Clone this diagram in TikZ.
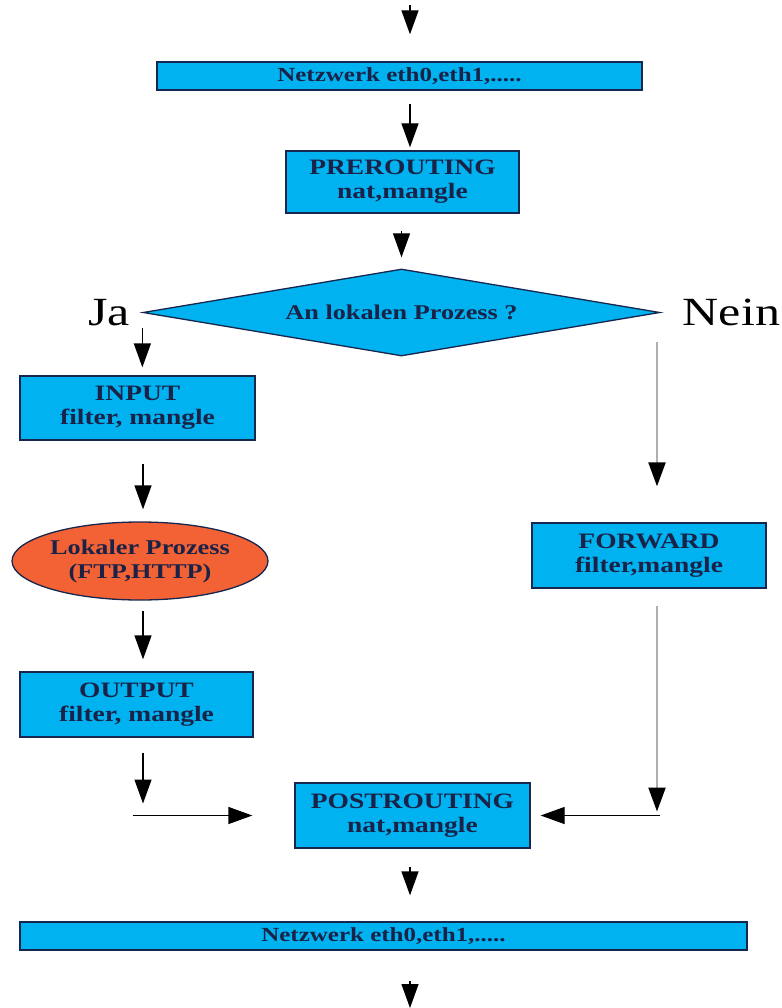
\documentclass[tikz,border=0pt]{standalone}
\usepackage{fontspec}
\setmainfont{Liberation Serif}[FakeStretch=1.25]
\usetikzlibrary{arrows.meta,shapes.geometric,calc}
\definecolor{boxblue}{RGB}{0,178,240}
\definecolor{procred}{RGB}{242,98,52}
\definecolor{bordercol}{RGB}{22,38,78}
\definecolor{textnavy}{RGB}{26,34,72}
\definecolor{greyline}{RGB}{175,175,175}
\tikzset{
  box/.style={draw=bordercol, line width=1.3pt, fill=boxblue, text=textnavy,
    font=\bfseries\fontsize{22}{24}\selectfont, align=center, inner sep=0pt},
  netbox/.style={box, font=\bfseries\fontsize{20}{21}\selectfont},
  arr/.style={line width=1.3pt, -{Triangle[width=17pt,length=24pt]}},
  garr/.style={greyline, line width=2.2pt, -{Triangle[width=17pt,length=24pt,color=black]}},
  lbl/.style={font=\fontsize{40}{42}\selectfont, inner sep=0pt}
}
\begin{document}
\begin{tikzpicture}[x=1pt,y=-1pt]
\useasboundingbox (0,0) rectangle (781,1008);
\coordinate (colA) at (410,0);
\coordinate (colL) at (143,0);
\coordinate (colR) at (657,0);
\coordinate (top) at (410,5);

\node[netbox, minimum width=485pt, minimum height=28pt] (net1) at (399.5,76) {Netzwerk eth0,eth1,.....};
\node[box, minimum width=233pt, minimum height=62pt] (pre) at (402.5,182) {PREROUTING\\nat,mangle};
\node[box, shape=diamond, aspect=5.9, minimum width=517pt, minimum height=87pt,
      font=\bfseries\fontsize{21}{22}\selectfont] (dia) at (401.5,312.5) {An lokalen Prozess ?};
\node[lbl, anchor=east] (ja) at ([xshift=-12pt]dia.west) {Ja};
\node[lbl, anchor=west] (nein) at ([xshift=22pt]dia.east) {Nein};
\node[box, minimum width=235pt, minimum height=64pt] (input) at (137.5,408) {INPUT\\filter, mangle};
\node[box, shape=ellipse, fill=procred, minimum width=256pt, minimum height=78pt,
      font=\bfseries\fontsize{21}{24}\selectfont] (proc) at (140,561) {Lokaler Prozess\\(FTP,HTTP)};
\node[box, minimum width=233pt, minimum height=65pt] (output) at (136.5,704.5) {OUTPUT\\filter, mangle};
\node[box, minimum width=234pt, minimum height=65pt] (fwd) at (649,555.5) {FORWARD\\filter,mangle};
\node[box, minimum width=235pt, minimum height=65pt] (post) at (412.5,815.5) {POSTROUTING\\nat,mangle};
\node[netbox, minimum width=727pt, minimum height=28pt] (net2) at (383.5,936) {Netzwerk eth0,eth1,.....};
\coordinate (bottom) at (410,1008);
\coordinate (lstart) at ($(post.west -| colL)+(-10,0)$);

% main column
\draw[arr] (top) -- ([yshift=27pt]net1.north -| colA);
\draw[arr, shorten <=13pt, shorten >=3pt] (net1.south -| colA) -- (pre.north -| colA);
\draw[arr, shorten <=17pt, shorten >=11pt] (pre.south -| dia.north) -- (dia.north);
% Ja branch
\draw[arr, shorten <=15pt, shorten >=8pt] (dia.west) -- (input.north -| dia.west);
\draw[arr, shorten <=23pt, shorten >=12pt] (input.south -| colL) -- (proc.north -| colL);
\draw[arr, shorten <=10pt, shorten >=12pt] (proc.south -| colL) -- (output.north -| colL);
\draw[arr, shorten <=15pt, shorten >=12pt] (output.south -| colL) -- (post.west -| colL);
\draw[arr, shorten >=42pt] (lstart) -- (post.west);
% Nein branch
\draw[garr, shorten <=29pt, shorten >=36pt] (dia.east -| colR) -- (fwd.north -| colR);
\draw[garr, shorten <=17pt, shorten >=4pt] (fwd.south -| colR) -- (post.east -| colR);
\draw[arr, shorten <=-3pt, shorten >=10pt] (post.east -| colR) -- (post.east);
% output
\draw[arr, shorten <=18pt, shorten >=26pt] (post.south -| colA) -- (net2.north -| colA);
\draw[arr, shorten <=30pt] (net2.south -| colA) -- (bottom);
\end{tikzpicture}
\end{document}
